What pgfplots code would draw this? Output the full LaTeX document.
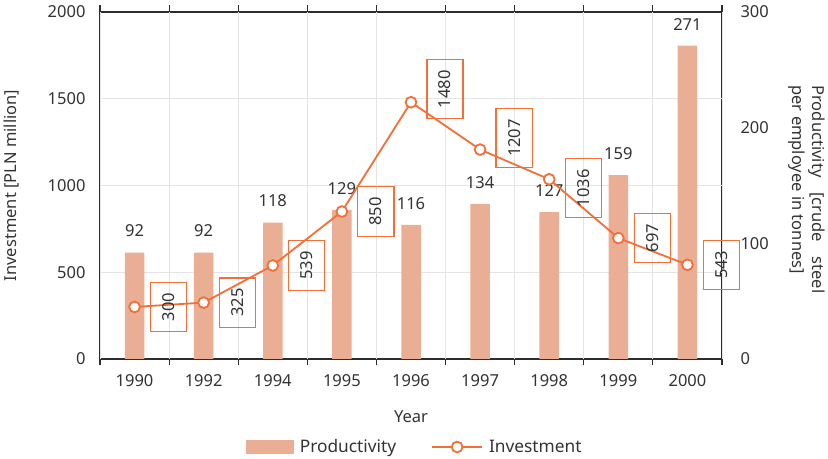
\documentclass[border=0pt]{standalone}
\usepackage{fontspec}
\setmainfont{Noto Sans}
\usepackage{pgfplots}
\usepackage{pgfplotstable}
\pgfplotsset{compat=1.18}
\definecolor{barc}{RGB}{234,174,148}
\definecolor{lc}{RGB}{243,111,56}
\definecolor{tc}{RGB}{51,51,51}
\definecolor{gc}{RGB}{228,228,228}
\definecolor{axc}{RGB}{45,45,45}
\pgfplotstableread{
x inv dy prod
0 300 0 92
1 325 0 92
2 539 0 118
3 850 0 129
4 1480 13 116
5 1207 11.5 134
6 1036 -9 127
7 697 0 159
8 543 0 271
}\data
\begin{document}
\begin{tikzpicture}[font=\fontsize{16.5}{20}\selectfont]
\begin{axis}[name=ax,
  scale only axis, width=622pt, height=347pt,
  xmin=-0.5, xmax=8.5, ymin=0, ymax=300,
  ybar, bar width=19.5pt,
  axis line style={axc, line width=1.2pt},
  xtick={0,...,8},
  xticklabels={1990,1992,1994,1995,1996,1997,1998,1999,2000},
  ytick={0,100,200,300},
  yticklabel pos=right,
  major tick length=0pt,
  extra x ticks={-0.5,0.5,...,8.5},
  extra x tick labels={},
  extra x tick style={grid=major, major tick length=6.5pt, tick align=outside, tick style={axc, line width=1.2pt}},
  extra y ticks={75,150,225},
  extra y tick labels={},
  extra y tick style={grid=major, major tick length=0pt},
  major grid style={gc, line width=0.9pt},
  /pgf/number format/.cd, 1000 sep={}, assume math mode=true, /pgfplots/.cd,
  tick label style={text=tc},
  xticklabel style={yshift=-12pt},
  yticklabel style={xshift=15pt},
  ylabel={\makebox[208pt][s]{Productivity [crude steel}\\per employee in tonnes]},
  every axis y label/.style={at={(rel axis cs:1,0.5)}, xshift=84.5pt, yshift=-4pt, rotate=-90, anchor=center, align=left, text=tc},
  xlabel={Year},
  every axis x label/.style={at={(rel axis cs:0.5,0)}, anchor=center, yshift=-58pt, text=tc},
  nodes near coords,
  every node near coord/.append style={yshift=12pt, text=tc},
]
\addplot[fill=barc, draw=none] table[x=x, y=prod] \data;
\end{axis}
\begin{axis}[
  scale only axis, width=622pt, height=347pt,
  xmin=-0.5, xmax=8.5, ymin=0, ymax=2000,
  axis line style={draw=none},
  xtick=\empty,
  ytick={0,500,...,2000},
  major tick length=0pt,
  /pgf/number format/.cd, 1000 sep={}, assume math mode=true, /pgfplots/.cd,
  tick label style={text=tc},
  yticklabel style={xshift=-11pt},
  ylabel={Investment [PLN million]},
  every axis y label/.style={at={(rel axis cs:0,0.5)}, xshift=-88pt, rotate=90, anchor=center, text=tc},
  legend columns=2,
  legend style={at={(0.5064,-0.2536)}, anchor=center, draw=none, fill=none, text=tc,
    font=\fontsize{17.3}{20}\selectfont,
    /tikz/every odd column/.append style={column sep=4pt},
    /tikz/every even column/.append style={column sep=33pt}},
]
\addlegendimage{legend image code/.code={\fill[barc] (0pt,-6.5pt) rectangle (47pt,6.5pt);}}
\addlegendentry{Productivity}
\addplot[lc, line width=1.8pt, mark=*, mark size=5.4pt, mark options={fill=white, line width=1.8pt},
  point meta=\thisrow{inv},
  visualization depends on={\thisrow{dy}\as\dy},
  nodes near coords,
  every node near coord/.append style={xshift=34pt, yshift=\dy pt, rotate=90, anchor=center,
     draw=lc, line width=1.2pt, inner xsep=10.5pt, inner ysep=12pt, text=tc, fill=none},
  legend image code/.code={\draw[lc, line width=1.8pt] (0pt,0pt)--(50pt,0pt); \draw[lc, line width=1.8pt, fill=white] (25pt,0pt) circle (5.4pt);}
] table[x=x, y=inv] \data;
\addlegendentry{Investment}
\end{axis}
\pgfresetboundingbox
\path ([shift={(-100pt,-100pt)}]ax.south west) rectangle ([shift={(106pt,12pt)}]ax.north east);
\end{tikzpicture}
\end{document}
